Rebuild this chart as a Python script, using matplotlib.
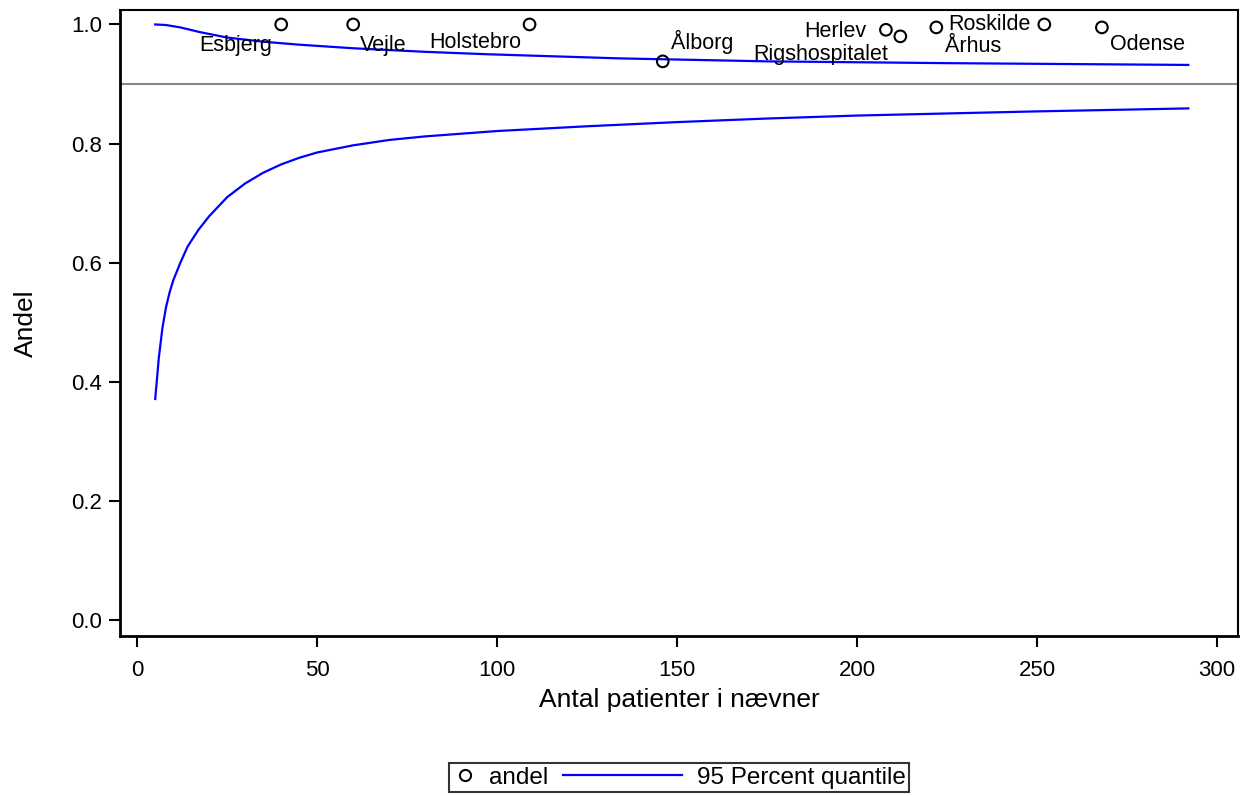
import matplotlib.pyplot as plt
from matplotlib.lines import Line2D
from matplotlib.legend_handler import HandlerBase

plt.rcParams['font.family'] = ['Liberation Sans', 'DejaVu Sans']

# hospitals
names = ['Esbjerg', 'Vejle', 'Holstebro', 'Ålborg', 'Herlev', 'Rigshospitalet',
         'Århus', 'Roskilde', 'Odense']
n_pat = [40, 60, 109, 146, 208, 212, 222, 252, 268]
andel = [1.0, 1.0, 1.0, 0.938, 0.991, 0.980, 0.995, 1.0, 0.995]
# label offsets (points) and alignment
lab_off = [(-6.5, -15), (5, -15), (-6, -13), (6, 14), (-14, -1), (-9, -13), (6, -14), (-10, 0), (6, -12)]
lab_ha = ['right', 'left', 'right', 'left', 'right', 'right', 'left', 'right', 'left']

# funnel limits
low_n = [5, 6, 7, 8, 9, 10, 12, 14, 17, 20, 25, 30, 35, 40, 45, 50, 60, 70, 80, 100,
         125, 150, 175, 200, 250, 292]
lower = [0.371, 0.44, 0.49, 0.525, 0.55, 0.57, 0.60, 0.627, 0.655, 0.678, 0.71,
         0.733, 0.751, 0.765, 0.776, 0.785, 0.797, 0.806, 0.812, 0.821, 0.829,
         0.836, 0.842, 0.847, 0.854, 0.859]
upper_n = [5, 8, 12, 17.5, 25, 35, 45, 60, 80, 97, 134, 175, 225, 292]
upper = [1.0, 0.999, 0.995, 0.987, 0.978, 0.971, 0.966, 0.960, 0.954, 0.950, 0.943,
         0.938, 0.935, 0.932]
target = 0.9


class LeftLine(HandlerBase):
    # legend line that reaches back into the column gap
    def create_artists(self, legend, orig_handle, xdescent, ydescent, width, height,
                       fontsize, trans):
        y = height / 2 - ydescent
        ln = Line2D([-4.0 * fontsize, width - 0.1 * fontsize], [y, y],
                    color=orig_handle.get_color(), lw=orig_handle.get_linewidth(),
                    transform=trans)
        return [ln]


fig, ax = plt.subplots(figsize=(12.53, 7.96), dpi=100)
fig.subplots_adjust(left=0.096, right=0.988, top=0.988, bottom=0.201)

ax.axhline(target, color='#888888', lw=1.5, zorder=1)
ax.plot(low_n, lower, color='#0000ff', lw=1.6)
ax.plot(upper_n, upper, color='#0000ff', lw=1.6)
ax.scatter(n_pat, andel, s=70, facecolors='none', edgecolors='black', linewidths=1.5, zorder=3)
for nm, x, y, off, ha in zip(names, n_pat, andel, lab_off, lab_ha):
    ax.annotate(nm, (x, y), xytext=off, textcoords='offset points', ha=ha, va='center',
                fontsize=15.5)

ax.set_xlim(-4.7, 305.8)
ax.set_ylim(-0.027, 1.025)
ax.set_xticks(range(0, 301, 50))
ax.set_yticks([0.0, 0.2, 0.4, 0.6, 0.8, 1.0])
ax.set_yticklabels(['0.0', '0.2', '0.4', '0.6', '0.8', '1.0'])
ax.tick_params(labelsize=16, length=8, width=1.5, direction='out', pad=5)
ax.tick_params(axis='x', pad=9)
for s in ['left', 'bottom']:
    ax.spines[s].set_linewidth(2)
for s in ['top', 'right']:
    ax.spines[s].set_linewidth(1.5)
ax.set_xlabel('Antal patienter i nævner', fontsize=19, labelpad=5)
ax.set_ylabel('Andel', fontsize=19, labelpad=24)

h_mark = Line2D([], [], marker='o', ls='none', mfc='none', mec='black', mew=1.5, ms=8)
h_line = Line2D([], [], color='#0000ff', lw=1.6)
leg = fig.legend([h_mark, h_line], ['andel', '95 Percent quantile'], loc='lower center',
                 bbox_to_anchor=(0.542, 0.0), ncol=2, frameon=True, fancybox=False,
                 fontsize=17.5, handlelength=1, borderpad=0.15, columnspacing=4.6,
                 handletextpad=0.5, borderaxespad=0.15,
                 handler_map={h_line: LeftLine()})
leg.get_frame().set_edgecolor('black')
leg.get_frame().set_linewidth(1.5)

fig.savefig('out.png', dpi=100)
